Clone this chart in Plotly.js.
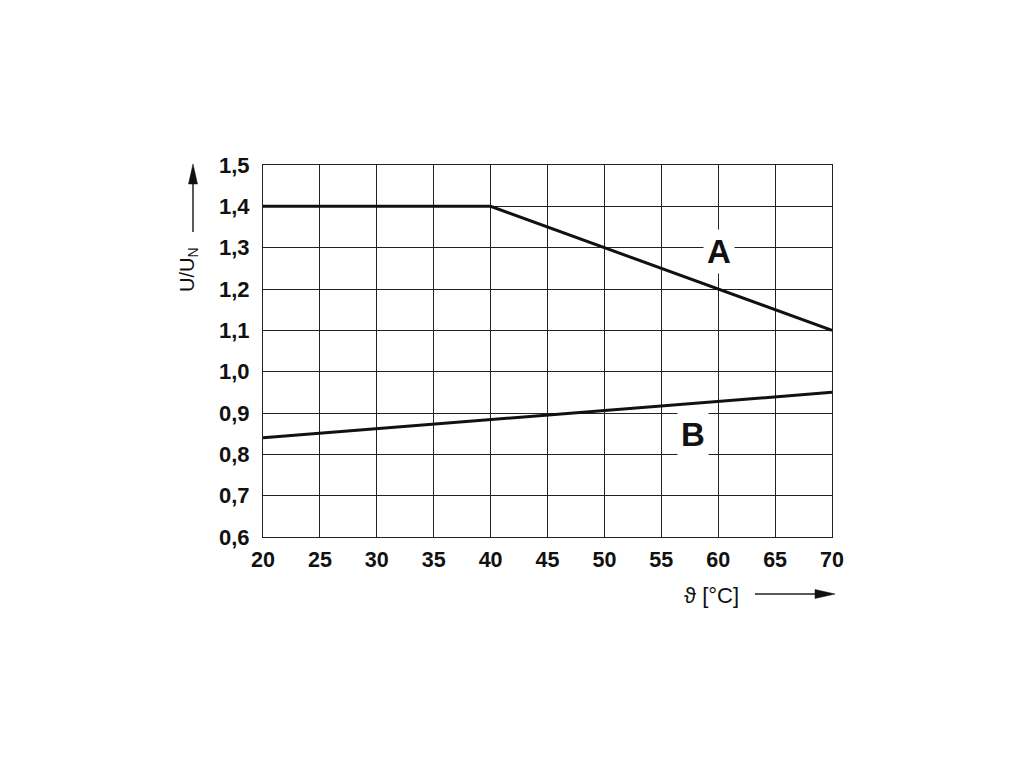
<!DOCTYPE html>
<html><head><meta charset="utf-8">
<script src="https://cdn.plot.ly/plotly-3.0.1.min.js"></script>
<style>html,body{margin:0;padding:0;background:#fff}#chart{width:1020px;height:765px}</style>
</head><body><div id="chart"></div>
<script>
const xA = [20, 40, 70];
const yA = [1.4, 1.4, 1.1];
const xB = [20, 70];
const yB = [0.84, 0.95];
const xTicks = [20, 25, 30, 35, 40, 45, 50, 55, 60, 65, 70];
const yTicks = [0.6, 0.7, 0.8, 0.9, 1.0, 1.1, 1.2, 1.3, 1.4, 1.5];
const curveLabels = ['A', 'B'];

// plot frame in pixels (for placing decorations outside the axes)
const L = 263, R = 832, T = 165, B = 537;
const px = v => (v - L) / (R - L);
const py = v => (B - v) / (B - T);

const lineStyle = {color: '#111', width: 3};
const data = [
  {x: xA, y: yA, mode: 'lines', line: lineStyle, hoverinfo: 'skip'},
  {x: xB, y: yB, mode: 'lines', line: lineStyle, hoverinfo: 'skip'}
];
const FAM = 'Liberation Sans, Arial, sans-serif';
const layout = {
  width: 1020, height: 765,
  margin: {l: L, r: 1020 - R, t: T, b: 765 - B},
  paper_bgcolor: '#fff', plot_bgcolor: '#fff',
  showlegend: false,
  separators: ',.',
  xaxis: {
    range: [20, 70], tickvals: xTicks, ticks: '', showgrid: true,
    gridcolor: '#222', gridwidth: 1, zeroline: false,
    showline: true, linecolor: '#222', linewidth: 1, mirror: true,
    tickfont: {family: FAM, size: 21.5, color: '#111', weight: 'bold'},
    ticklabelstandoff: 3
  },
  yaxis: {
    range: [0.6, 1.5], tickvals: yTicks, tickformat: '.1f', ticks: '', showgrid: true,
    gridcolor: '#222', gridwidth: 1, zeroline: false,
    showline: true, linecolor: '#222', linewidth: 1, mirror: true,
    tickfont: {family: FAM, size: 22, color: '#111', weight: 'bold'},
    ticklabelstandoff: 8
  },
  annotations: [
    {x: 60.07, y: 1.29, xref: 'x', yref: 'y', text: curveLabels[0], showarrow: false,
     xanchor: 'center', yanchor: 'middle',
     font: {family: FAM, size: 33, color: '#111', weight: 'bold'},
     bgcolor: '#fff', borderpad: 3},
    {x: 57.8, y: 0.847, xref: 'x', yref: 'y', text: curveLabels[1], showarrow: false,
     xanchor: 'center', yanchor: 'middle',
     font: {family: FAM, size: 33, color: '#111', weight: 'bold'},
     bgcolor: '#fff', borderpad: 3},
    {x: px(188), y: py(270), xref: 'paper', yref: 'paper',
     xanchor: 'center', yanchor: 'middle',
     text: 'U/U<sub>N</sub>', textangle: -90, showarrow: false,
     font: {family: FAM, size: 20, color: '#111'}},
    {x: px(711), y: py(595), xref: 'paper', yref: 'paper',
     xanchor: 'center', yanchor: 'middle',
     text: 'ϑ [°C]', showarrow: false,
     font: {family: FAM, size: 22, color: '#111'}}
  ],
  shapes: [
    {type: 'line', xref: 'paper', yref: 'paper', x0: px(193), x1: px(193), y0: py(232), y1: py(182),
     line: {color: '#222', width: 1.5}},
    {type: 'path', xref: 'paper', yref: 'paper',
     path: `M ${px(193)} ${py(164)} L ${px(188.5)} ${py(184)} L ${px(197.5)} ${py(184)} Z`,
     fillcolor: '#111', line: {color: '#111', width: 0.5}},
    {type: 'line', xref: 'paper', yref: 'paper', x0: px(755), x1: px(817), y0: py(594), y1: py(594),
     line: {color: '#222', width: 1.5}},
    {type: 'path', xref: 'paper', yref: 'paper',
     path: `M ${px(835)} ${py(594)} L ${px(815)} ${py(589.5)} L ${px(815)} ${py(598.5)} Z`,
     fillcolor: '#111', line: {color: '#111', width: 0.5}}
  ]
};
Plotly.newPlot('chart', data, layout, {displayModeBar: false, staticPlot: true});
</script></body></html>
